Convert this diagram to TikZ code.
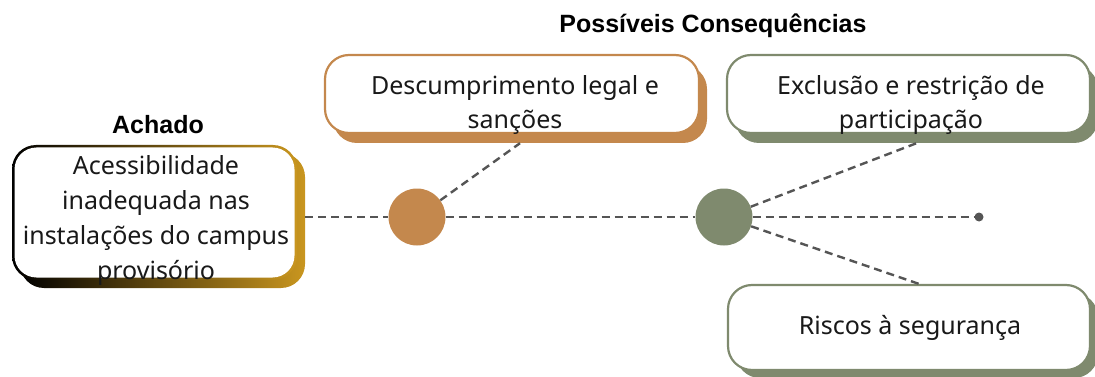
\documentclass[tikz,border=0pt]{standalone}
\usepackage{fontspec}
\setmainfont{Noto Sans}
\newfontfamily\headfont{Liberation Sans}
\definecolor{corange}{HTML}{C4884D}
\definecolor{cgreen}{HTML}{7F8A6E}
\definecolor{cgold}{HTML}{C9961F}
\definecolor{cdash}{HTML}{555555}
\begin{document}
\begin{tikzpicture}[x=1pt,y=-1pt,
  txt/.style={font=\fontsize{25}{34}\selectfont, align=center, inner sep=0pt, text=black!90},
  head/.style={font=\headfont\bfseries\fontsize{25}{28}\selectfont, inner sep=0pt},
  front/.style={rounded corners=24pt, fill=white, line width=2.2pt, inner sep=0pt},
  shadowbox/.style={rounded corners=24pt, inner sep=0pt},
  conn/.style={draw=cdash, line width=2.4pt, dash pattern=on 8pt off 5pt},
  ball/.style={circle, minimum size=57pt, inner sep=0pt}]
\useasboundingbox (0,0) rectangle (1095,377);

% left box
\node[shadowbox, left color=black, right color=cgold, minimum width=285pt, minimum height=135pt] (achS) at (162.5,220.5) {};
\node[shadowbox, left color=black, right color=cgold, minimum width=285pt, minimum height=135pt] (achB) at (154.5,212.5) {};
\node[shadowbox, fill=white, rounded corners=22pt, minimum width=280pt, minimum height=130pt] (achF) at (154.5,212.5) {};
\node[txt, font=\fontsize{25}{35}\selectfont] (achT) at (156,220) {Acessibilidade\\inadequada nas\\instalações do campus\\provisório};
\node[head] (achH) at (158,125) {Achado};

% heading
\node[head] (consH) at (713,26) {Possíveis Consequências};

% top-left box
\node[shadowbox, fill=corange, minimum width=374pt, minimum height=78pt] (descS) at (520,104) {};
\node[front, draw=corange, minimum width=374pt, minimum height=78pt] (descF) at (512,94) {};
\node[txt] (descT) at (515,105) {Descumprimento legal e\\sanções};

% top-right box
\node[shadowbox, fill=cgreen, minimum width=363pt, minimum height=78pt] (exclS) at (916.5,104) {};
\node[front, draw=cgreen, minimum width=363pt, minimum height=78pt] (exclF) at (908.5,94) {};
\node[txt] (exclT) at (911,105) {Exclusão e restrição de\\participação};

% bottom box
\node[shadowbox, fill=cgreen, minimum width=362pt, minimum height=85pt] (riskS) at (917,335.5) {};
\node[front, draw=cgreen, minimum width=362pt, minimum height=85pt] (riskF) at (909,327.5) {};
\node[txt] (riskT) at (910,328) {Riscos à segurança};

% circles
\node[ball, fill=corange] (c1) at (417,217) {};
\node[ball, fill=cgreen] (c2) at (724,217) {};
\node[circle, fill=cdash, minimum size=9pt, inner sep=0pt] (dot) at (979,217) {};

% connectors
\draw[conn] (achS.east |- c1.west) -- (c1.west);
\draw[conn] (c1.east) -- (c2.west);
\draw[conn] (c2.east) -- (dot.west);
\draw[conn] (c1) -- (descS.south);
\draw[conn] (c2) -- (exclS.south);
\draw[conn] (c2) -- ([xshift=10pt]riskF.north);
\end{tikzpicture}
\end{document}
